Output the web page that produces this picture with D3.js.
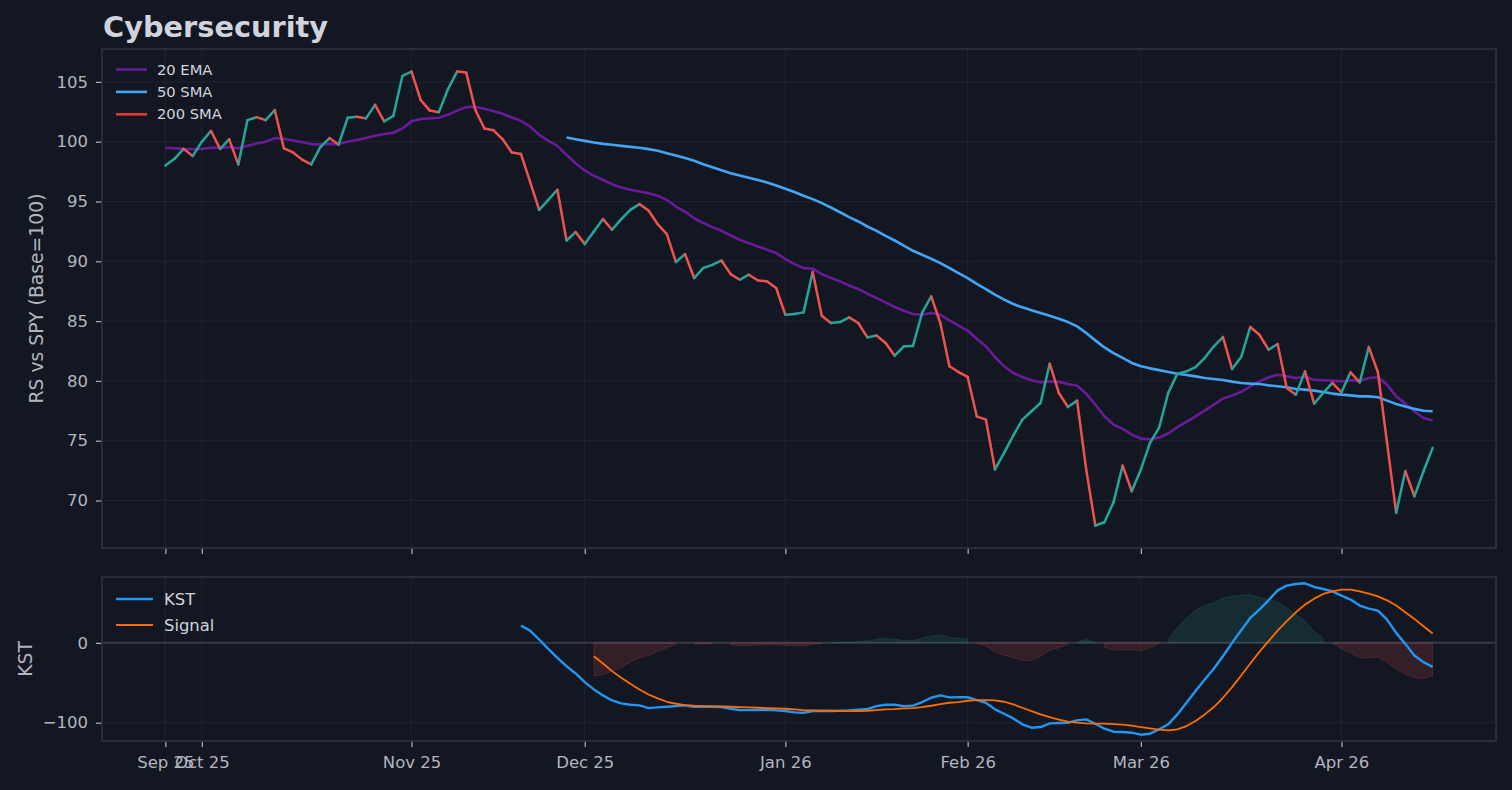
<!DOCTYPE html>
<html>
<head>
<meta charset="utf-8">
<script src="https://cdn.jsdelivr.net/npm/d3@7"></script>
<style>
    body { margin: 0; background: #131722; }
    svg text { font-family: "DejaVu Sans", sans-serif; }
</style>
</head>
<body>
<svg id="chart" width="1512" height="790"></svg>
<script>
// relative strength vs SPY, one value per trading day
let price = [98.0, 98.57, 99.4, 98.8, 100.0, 100.9, 99.4, 100.2, 98.1, 101.8,
    102.05, 101.8, 102.65, 99.45, 99.1, 98.5, 98.1, 99.55, 100.3, 99.75,
    102.0, 102.08, 101.95, 103.08, 101.7, 102.15, 105.5, 105.86, 103.5, 102.6,
    102.47, 104.4, 105.86, 105.78, 102.65, 101.1, 100.95, 100.2, 99.1, 98.98,
    96.67, 94.3, 95.14, 95.98, 91.74, 92.44, 91.44, 92.49, 93.53, 92.64,
    93.53, 94.3, 94.78, 94.25, 93.1, 92.28, 89.94, 90.6, 88.6, 89.44,
    89.7, 90.07, 88.93, 88.46, 88.88, 88.4, 88.32, 87.76, 85.53, 85.59,
    85.73, 89.1, 85.45, 84.84, 84.92, 85.31, 84.84, 83.64, 83.8, 83.17,
    82.11, 82.89, 82.92, 85.68, 87.07, 84.84, 81.22, 80.74, 80.33, 77.04,
    76.76, 72.6, 73.98, 75.43, 76.76, 77.46, 78.16, 81.44, 78.99, 77.82,
    78.35, 72.6, 67.91, 68.18, 69.85, 72.92, 70.77, 72.6, 74.82, 76.1,
    79.0, 80.6, 80.8, 81.16, 81.92, 82.89, 83.67, 81.0, 82.0, 84.51,
    83.86, 82.61, 83.09, 79.41, 78.85, 80.8, 78.1, 78.99, 79.83, 79.05,
    80.72, 79.88, 82.83, 80.72, 74.82, 68.97, 72.45, 70.36, 72.45, 74.4];

let ema20 = [99.5, 99.45, 99.4, 99.38, 99.4, 99.5, 99.5, 99.55, 99.45, 99.65,
    99.85, 100.0, 100.3, 100.25, 100.1, 99.95, 99.8, 99.78, 99.82, 99.8,
    100.0, 100.15, 100.3, 100.5, 100.65, 100.75, 101.1, 101.7, 101.9, 101.95,
    102.0, 102.25, 102.6, 102.9, 102.9, 102.75, 102.55, 102.33, 102.02, 101.74,
    101.27, 100.57, 100.07, 99.65, 98.9, 98.2, 97.6, 97.15, 96.8, 96.45,
    96.17, 95.98, 95.84, 95.7, 95.48, 95.14, 94.58, 94.16, 93.6, 93.2,
    92.86, 92.55, 92.16, 91.8, 91.52, 91.24, 90.96, 90.69, 90.19, 89.77,
    89.43, 89.38, 88.93, 88.6, 88.32, 87.98, 87.68, 87.29, 86.93, 86.56,
    86.18, 85.87, 85.59, 85.53, 85.68, 85.53, 85.06, 84.62, 84.2, 83.53,
    82.89, 82.0, 81.22, 80.66, 80.33, 80.05, 79.88, 79.96, 79.92, 79.74,
    79.6, 78.94, 78.02, 77.04, 76.35, 75.99, 75.51, 75.18, 75.12, 75.26,
    75.6, 76.13, 76.57, 77.04, 77.51, 78.02, 78.52, 78.77, 79.08, 79.55,
    79.96, 80.3, 80.52, 80.38, 80.24, 80.33, 80.1, 80.05, 80.02, 79.96,
    80.05, 80.0, 80.24, 80.3, 79.69, 78.71, 78.1, 77.46, 76.9, 76.68];

let sma50Start = 44;
let sma50 = [100.35, 100.2, 100.07, 99.93, 99.82, 99.74, 99.65, 99.57, 99.49, 99.38,
    99.24, 99.04, 98.84, 98.63, 98.4, 98.12, 97.87, 97.62, 97.37, 97.17,
    96.98, 96.79, 96.59, 96.34, 96.06, 95.79, 95.48, 95.2, 94.87, 94.5,
    94.1, 93.7, 93.33, 92.91, 92.55, 92.13, 91.74, 91.32, 90.88, 90.55,
    90.21, 89.85, 89.44, 89.02, 88.6, 88.12, 87.68, 87.21, 86.79, 86.43,
    86.15, 85.9, 85.68, 85.45, 85.2, 84.92, 84.56, 84.0, 83.39, 82.8,
    82.33, 81.92, 81.5, 81.22, 81.05, 80.9, 80.75, 80.6, 80.5, 80.38,
    80.24, 80.16, 80.08, 79.94, 79.83, 79.77, 79.74, 79.63, 79.55, 79.47,
    79.33, 79.27, 79.19, 79.08, 78.94, 78.85, 78.79, 78.71, 78.71, 78.63,
    78.35, 78.07, 77.87, 77.66, 77.51, 77.46];

let kstStart = 39;
let kst = [21.7, 15.4, 4.2, -7.5, -18.75, -29.2, -38.3, -49.2, -58.3, -65.8,
    -72.1, -75.8, -77.5, -78.3, -81.7, -80.8, -80, -79.2, -78.3, -80,
    -80, -80, -80.4, -82.5, -84.2, -84.2, -84.2, -83.75, -84.6, -85.4,
    -87.1, -87.5, -85.4, -85.4, -85.4, -85, -84.6, -83.75, -82.9, -79.2,
    -77.5, -77.5, -79.2, -78.75, -74.2, -68.75, -65.8, -68.3, -68.1, -68.1,
    -71.7, -75, -83.3, -88.75, -94.6, -102, -106.25, -105.4, -100.8, -100.4,
    -100, -97, -95.8, -101.25, -107.5, -111.25, -111.7, -112.5, -115, -113.75,
    -108.3, -102, -89.6, -75, -60.4, -45.8, -32.5, -16.7, 0, 15.8,
    31.25, 41.7, 53.3, 65.8, 71.7, 73.75, 74.6, 70, 67.5, 64.6,
    59.2, 54.2, 46.7, 42.9, 40.4, 29.2, 12.5, -1.25, -15.8, -24.2,
    -30];

let signalStart = 47;
let signal = [-16.7, -25.8, -35.4, -43.75, -51.25, -58.3, -64.6, -69.6, -73.75, -76.25,
    -77.9, -78.75, -79.2, -79.6, -79.6, -80, -80.4, -80.8, -81.25, -81.7,
    -82.1, -82.5, -83.3, -84.2, -84.6, -85, -85, -85.4, -85.4, -85.4,
    -85, -84.2, -83.3, -82.9, -82.1, -81.7, -80.4, -78.75, -76.7, -75,
    -74.2, -72.5, -71.7, -71.7, -72.1, -73.75, -77.1, -81.25, -85.4, -89.6,
    -92.9, -96.25, -98.75, -100, -100.8, -101.25, -101.25, -101.7, -102.5, -103.75,
    -105.4, -107.1, -108.75, -109.6, -108.3, -104.2, -97.9, -89.6, -80.4, -68.75,
    -55.4, -40.8, -25.8, -11.25, 2.1, 15.4, 27.1, 38.3, 47.9, 55.4,
    61.25, 64.6, 66.7, 66.7, 64.6, 61.7, 58.3, 53.3, 46.7, 38.3,
    30, 20.8, 11.7];

// shaded KST minus signal, same start as signal
let hist = [-41.7, -39.6, -35.4, -31.25, -24.2, -18.75, -15.8, -10.4, -6.25, -2.1,
    0.4, -1.25, -1, -0.8, 0.2, -2.5, -3.75, -3.4, -2.9, -2.1,
    -2.5, -2.9, -3.75, -4.2, -1.7, -0.8, 0.1, 0.4, 0.8, 1.7,
    2.5, 4.6, 5.4, 4.6, 2.9, 2.9, 5.8, 8.75, 10, 6.7,
    5.8, 4.5, -0.5, -4.2, -11.7, -15.4, -18.75, -22, -22, -16.7,
    -9.2, -6.25, -2.1, 0.8, 4.2, 0.3, -5.4, -9.2, -9.2, -8.3,
    -9.6, -6.25, -0.8, 4.2, 18.75, 31.25, 40.8, 47, 50, 56.25,
    58.3, 59.6, 60.4, 57, 54.2, 50.8, 43.75, 35.4, 27.1, 14.6,
    6.25, -0.3, -7.5, -12.5, -18.75, -18.75, -17.5, -25, -33.3, -38.75,
    -43.75, -44.6, -41.7];

let tickIdx = [0, 4, 27, 46, 68, 88, 107, 129];
let tickLabels = ["Sep 25", "Oct 25", "Nov 25", "Dec 25", "Jan 26", "Feb 26", "Mar 26", "Apr 26"];
let rsTicks = [70, 75, 80, 85, 90, 95, 100, 105];
let kstTicks = [-100, 0];

let svg = d3.select("svg#chart");
let textColor = "#b2b5be";
let spineColor = "#2c303b";
let gridColor = "#20242f";

let left = 102, right = 1496;
let top1 = 49, bottom1 = 548;
let top2 = 577, bottom2 = 741;

let xScale = d3.scaleLinear().domain([-6.95, 145.95]).range([left, right]);
let rsScale = d3.scaleLinear().domain([66.03, 107.75]).range([bottom1, top1]);
let kstScale = d3.scaleLinear().domain([-122.9, 82.5]).range([bottom2, top2]);

function styleAxis(g) {
    g.selectAll("path.domain").remove();
    g.selectAll(".tick line").attr("stroke", textColor).attr("stroke-width", 1.2);
    g.selectAll(".tick text").attr("fill", textColor).style("font-size", "16.5px")
        .style("font-family", "DejaVu Sans");
}

// gridlines for both panels
[[rsScale, top1, bottom1, rsTicks], [kstScale, top2, bottom2, kstTicks]].forEach(function (p) {
    let g = svg.append("g");
    g.selectAll("line.v").data(tickIdx).enter().append("line")
        .attr("x1", d => xScale(d)).attr("x2", d => xScale(d))
        .attr("y1", p[1]).attr("y2", p[2])
        .attr("stroke", gridColor).attr("stroke-width", 1);
    g.selectAll("line.h").data(p[3]).enter().append("line")
        .attr("x1", left).attr("x2", right)
        .attr("y1", d => p[0](d)).attr("y2", d => p[0](d))
        .attr("stroke", gridColor).attr("stroke-width", 1);
});

// axes
let yAxisTop = d3.axisLeft(rsScale).tickValues(rsTicks).tickSize(6).tickPadding(8);
svg.append("g").attr("transform", "translate(" + left + ",0)").call(yAxisTop).call(styleAxis);
let xAxisTop = d3.axisBottom(xScale).tickValues(tickIdx).tickSize(6).tickFormat("");
svg.append("g").attr("transform", "translate(0," + bottom1 + ")").call(xAxisTop).call(styleAxis);

let yAxisBot = d3.axisLeft(kstScale).tickValues(kstTicks).tickSize(6).tickPadding(8)
    .tickFormat(d => d < 0 ? "\u2212" + Math.abs(d) : d);
svg.append("g").attr("transform", "translate(" + left + ",0)").call(yAxisBot).call(styleAxis);
let xAxisBot = d3.axisBottom(xScale).tickValues(tickIdx).tickSize(6).tickPadding(9)
    .tickFormat((d, i) => tickLabels[i]);
svg.append("g").attr("transform", "translate(0," + bottom2 + ")").call(xAxisBot).call(styleAxis);

// zero line in KST panel
svg.append("line")
    .attr("x1", left).attr("x2", right)
    .attr("y1", kstScale(0)).attr("y2", kstScale(0))
    .attr("stroke", "#363a45").attr("stroke-width", 2);

// histogram fill, split into runs of same sign
let runs = [];
hist.forEach(function (v, i) {
    let pos = v >= 0;
    let last = runs[runs.length - 1];
    if (last && last.pos === pos) {
        last.pts.push(i);
    } else {
        runs.push({ pos: pos, pts: [i] });
    }
});
let area = d3.area()
    .x(i => xScale(signalStart + i))
    .y0(kstScale(0))
    .y1(i => kstScale(hist[i]));
runs.forEach(function (r) {
    let c = r.pos ? "#26a69a" : "#ef5350";
    svg.append("path").datum(r.pts).attr("d", area)
        .attr("fill", c).attr("fill-opacity", 0.15)
        .attr("stroke", c).attr("stroke-opacity", 0.18).attr("stroke-width", 1);
});

// KST + signal
let kstLine = d3.line().x((d, i) => xScale(kstStart + i)).y(d => kstScale(d));
let sigLine = d3.line().x((d, i) => xScale(signalStart + i)).y(d => kstScale(d));
svg.append("path").datum(kst).attr("d", kstLine)
    .attr("fill", "none").attr("stroke", "#2196f3").attr("stroke-width", 2.4).attr("stroke-linejoin", "round");
svg.append("path").datum(signal).attr("d", sigLine)
    .attr("fill", "none").attr("stroke", "#ff6d00").attr("stroke-width", 1.8).attr("stroke-linejoin", "round");

// moving averages
let emaLine = d3.line().x((d, i) => xScale(i)).y(d => rsScale(d));
let smaLine = d3.line().x((d, i) => xScale(sma50Start + i)).y(d => rsScale(d));
svg.append("path").datum(ema20).attr("d", emaLine)
    .attr("fill", "none").attr("stroke", "#6a1b9a").attr("stroke-width", 2.6).attr("stroke-linejoin", "round");
svg.append("path").datum(sma50).attr("d", smaLine)
    .attr("fill", "none").attr("stroke", "#42a5f5").attr("stroke-width", 2.6).attr("stroke-linejoin", "round");

// price, each step coloured by direction
let steps = d3.range(1, price.length);
svg.append("g").selectAll("line").data(steps).enter().append("line")
    .attr("x1", i => xScale(i - 1)).attr("y1", i => rsScale(price[i - 1]))
    .attr("x2", i => xScale(i)).attr("y2", i => rsScale(price[i]))
    .attr("stroke", i => price[i] >= price[i - 1] ? "#26a69a" : "#ef5350")
    .attr("stroke-width", 2.5).attr("stroke-linecap", "round");

// panel frames
[[top1, bottom1], [top2, bottom2]].forEach(function (p) {
    svg.append("rect")
        .attr("x", left).attr("y", p[0])
        .attr("width", right - left).attr("height", p[1] - p[0])
        .attr("fill", "none").attr("stroke", spineColor).attr("stroke-width", 1.8);
});

// legends
let topLegend = [["20 EMA", "#6a1b9a"], ["50 SMA", "#42a5f5"], ["200 SMA", "#e53935"]];
topLegend.forEach(function (d, i) {
    let y = 69.5 + i * 22.4;
    svg.append("line").attr("x1", 116).attr("x2", 147).attr("y1", y).attr("y2", y)
        .attr("stroke", d[1]).attr("stroke-width", 2.6);
    svg.append("text").attr("x", 157).attr("y", y).attr("dy", "0.35em")
        .style("font-size", "14.7px").attr("fill", "#d1d4dc").text(d[0]);
});
let botLegend = [["KST", "#2196f3", 2.4], ["Signal", "#ff6d00", 1.8]];
botLegend.forEach(function (d, i) {
    let y = 599 + i * 26;
    svg.append("line").attr("x1", 116).attr("x2", 153).attr("y1", y).attr("y2", y)
        .attr("stroke", d[1]).attr("stroke-width", d[2]);
    svg.append("text").attr("x", 164).attr("y", y).attr("dy", "0.35em")
        .style("font-size", "16.4px").attr("fill", "#d1d4dc").text(d[0]);
});

// titles
svg.append("text").attr("x", 103).attr("y", 37).style("font-size", "28.8px")
    .style("font-weight", "bold").attr("fill", "#d1d4dc").text("Cybersecurity");
svg.append("text").attr("transform", "translate(36," + ((top1 + bottom1) / 2) + ")rotate(-90)")
    .attr("dy", "0.35em").style("text-anchor", "middle").style("font-size", "18.8px")
    .attr("fill", textColor).text("RS vs SPY (Base=100)");
svg.append("text").attr("transform", "translate(25," + ((top2 + bottom2) / 2) + ")rotate(-90)")
    .attr("dy", "0.35em").style("text-anchor", "middle").style("font-size", "18.8px")
    .attr("fill", textColor).text("KST");
</script>
</body>
</html>
